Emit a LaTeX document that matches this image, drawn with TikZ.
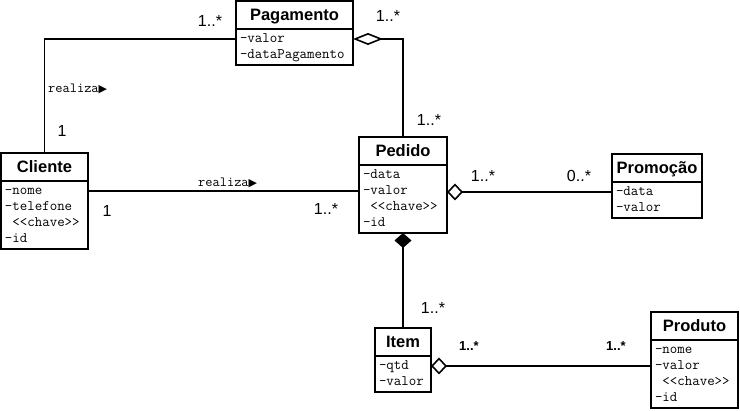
\documentclass[tikz,border=0pt]{standalone}
\usepackage{fontspec}
\setsansfont{Liberation Sans}
\newfontfamily\symfont{DejaVu Sans}
\usepackage{tikz}
\usetikzlibrary{positioning, arrows.meta}
\tikzset{class name/.style={draw, line width=1.6pt, outer sep=0pt, inner sep=0pt, minimum width=#1, minimum height=28pt, text height=12pt, text depth=0pt, font=\sffamily\bfseries\fontsize{16.5}{20}\selectfont},
	class attr/.style={draw, line width=1.6pt, outer sep=0pt, inner xsep=4pt, inner ysep=2pt, text width=#1, align=left, font=\ttfamily\fontsize{14.5}{16}\selectfont, execute at begin node=\strut, execute at end node=\strut},
	mult/.style={inner sep=0pt, font=\sffamily\fontsize{16}{18}\selectfont},
	mult small/.style={inner sep=0pt, font=\sffamily\bfseries\fontsize{13}{15}\selectfont},
	role/.style={inner sep=0pt, anchor=base west, font=\ttfamily\fontsize{14}{15}\selectfont},
	conn/.style={line width=1.6pt},}

\begin{document}
\begin{tikzpicture}[x=1pt, y=1pt]
				\useasboundingbox (0,0) rectangle (740,411);
				% Classes
				\node[class name=117pt, anchor=north] (pagamento) at (294.5,410) {Pagamento};
				\node[class attr=109pt, below=0pt of pagamento] (pagamentoA) {-valor\\-dataPagamento};
				\node[class name=87pt, anchor=north] (cliente) at (44.5,258) {Cliente};
				\node[class attr=79pt, below=0pt of cliente] (clienteA) {-nome\\-telefone\\\hphantom{-}<<chave>>\\-id};
				\node[class name=88pt, anchor=north] (pedido) at (403,274) {Pedido};
				\node[class attr=80pt, below=0pt of pedido] (pedidoA) {-data\\-valor\\\hphantom{-}<<chave>>\\-id};
				\node[class name=90pt, anchor=north] (promocao) at (657,257) {Promoção};
				\node[class attr=82pt, below=0pt of promocao] (promocaoA) {-data\\-valor};
				\node[class name=56pt, below=95pt of pedidoA] (item) {Item};
				\node[class attr=48pt, below=0pt of item] (itemA) {-qtd\\-valor};
				\node[class name=87pt, anchor=north] (produto) at (694.5,99) {Produto};
				\node[class attr=79pt, below=0pt of produto] (produtoA) {-nome\\-valor\\\hphantom{-}<<chave>>\\-id};
				% Associations
				\coordinate (cp) at ([yshift=24pt]clienteA.east);
				\coordinate (pm) at ([yshift=8pt]promocaoA.west);
				\draw[conn] (cliente.north) |- ([yshift=8pt]pagamentoA.west);
				\draw[conn, {Diamond[open, length=30pt, width=12pt]}-] ([yshift=8pt]pagamentoA.east) -| (pedido.north);
				\draw[conn] (cp) -- (cp -| pedidoA.west);
				\draw[conn, {Diamond[open, length=16pt, width=17pt]}-] (pedidoA.east |- pm) -- (pm);
				\draw[conn, {Diamond[length=15pt, width=17pt]}-] (pedidoA.south) -- (item.north);
				\draw[conn, {Diamond[open, length=16pt, width=17pt]}-] ([yshift=8pt]itemA.east) -- ([yshift=8pt]produtoA.west);
				% Roles
				\node[role] (r1) at (48,318) {realiza{\symfont\fontsize{11}{12}\selectfont▶}};
				\node[role] (r2) at (198,224.3) {realiza{\symfont\fontsize{11}{12}\selectfont▶}};
				% Multiplicities
				\node[mult] (m1) at (210,390) {1..*};
				\node[mult] (m2) at (388,395) {1..*};
				\node[mult] (m3) at (62,280) {1};
				\node[mult] (m4) at (429,291) {1..*};
				\node[mult] (m5) at (107,200) {1};
				\node[mult] (m6) at (326,202) {1..*};
				\node[mult] (m7) at (483,235) {1..*};
				\node[mult] (m8) at (579,235) {0..*};
				\node[mult] (m9) at (433,103) {1..*};
				\node[mult small] (m10) at (469,65) {1..*};
				\node[mult small] (m11) at (616,65) {1..*};
			\end{tikzpicture}
\end{document}
